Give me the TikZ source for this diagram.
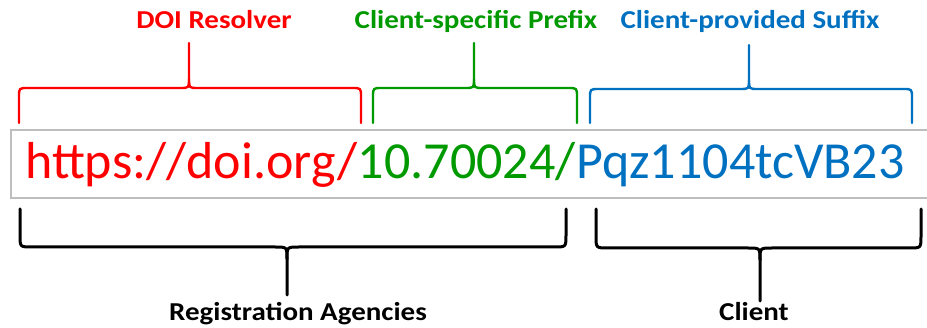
\documentclass[tikz,border=0pt]{standalone}
\usepackage{graphicx}
\usepackage{fontspec}
\setmainfont{Carlito}
\definecolor{resolverred}{RGB}{255,0,0}
\definecolor{prefixgreen}{RGB}{0,153,0}
\definecolor{suffixblue}{RGB}{0,112,192}
\definecolor{boxgray}{RGB}{190,190,190}

% curly brace: #1 style, #2 left x, #3 right x, #4 tip x,
% #5 leg end y, #6 bar y, #7 tip y, #8 corner radius
\newcommand\curlybrace[8]{%
  \draw[#1] (#2,#5) -- (#2,{#6-#8*sign(#7-#6)})
    .. controls (#2,#6) .. ({#2+#8},#6) -- ({#4-#8},#6)
    .. controls (#4,#6) .. (#4,{#6+#8*sign(#7-#6)}) -- (#4,#7);
  \draw[#1] (#3,#5) -- (#3,{#6-#8*sign(#7-#6)})
    .. controls (#3,#6) .. ({#3-#8},#6) -- ({#4+#8},#6)
    .. controls (#4,#6) .. (#4,{#6+#8*sign(#7-#6)});
}
% slightly condensed-height bold caption text
\newcommand\captxt[1]{\scalebox{1}[0.89]{#1}}

\begin{document}
\begin{tikzpicture}[x=1pt,y=-1pt,
    urlpart/.style={anchor=base west,inner sep=0pt,font=\fontsize{52}{52}\selectfont},
    partlabel/.style={anchor=base,inner sep=0pt,font=\fontsize{29}{29}\selectfont\bfseries},
    topbrace/.style={line width=2.4pt,line cap=round,line join=round},
    lowbrace/.style={line width=3pt,line cap=round,line join=round,black}]
  \useasboundingbox (0,0) rectangle (927,328);

  % frame around the DOI string (open on the right)
  \draw[boxgray,line width=1.5pt] (927,130) -- (11,130) -- (11,198) -- (927,198);

  % the DOI string in three coloured parts
  \node[urlpart,text=resolverred] (resolver) at (25,179) {https://doi.org/};
  \node[urlpart,text=prefixgreen] (prefix) at (resolver.base east) {10.70024/};
  \node[urlpart,text=suffixblue] (suffix) at (prefix.base east) {Pqz1104tcVB23};

  % labels above
  \node[partlabel,text=resolverred] (lres) at (214,28.5) {\captxt{DOI Resolver}};
  \node[partlabel,text=prefixgreen] (lpre) at (476,28.5) {\captxt{Client-specific Prefix}};
  \node[partlabel,text=suffixblue] (lsuf) at (750,28.5) {\captxt{Client-provided Suffix}};

  % labels below
  \node[partlabel] (lagency) at (298,321) {\captxt{Registration Agencies}};
  \node[partlabel] (lclient) at (754,321) {\captxt{Client}};

  % braces above the string
  \curlybrace{topbrace,resolverred}{19}{361}{189}{123}{88}{43}{9}
  \curlybrace{topbrace,prefixgreen}{373}{577}{474}{123}{88}{43}{9}
  \curlybrace{topbrace,suffixblue}{590}{912}{749}{123}{89}{45}{9}

  % braces below the string
  \curlybrace{lowbrace}{20}{566}{287}{209}{247}{295}{12}
  \curlybrace{lowbrace}{596}{921}{760}{209}{248}{301}{12}
\end{tikzpicture}
\end{document}
